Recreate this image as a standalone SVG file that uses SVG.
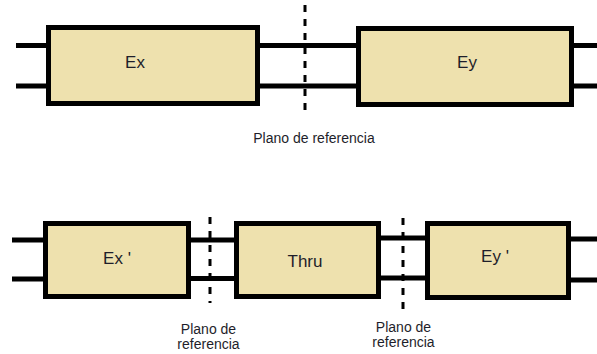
<svg xmlns="http://www.w3.org/2000/svg" width="597" height="354" viewBox="0 0 597 354">
<style>
.box{fill:#EEE1AE;stroke:#000;stroke-width:5}
.wire{stroke:#000;stroke-width:5;fill:none}
.plane{stroke:#000;stroke-width:3;stroke-dasharray:7 7;fill:none}
.lbl{font-family:"Liberation Sans",Arial,sans-serif;font-size:17px;fill:#1e1e2a;text-anchor:middle}
.cap{font-family:"Liberation Sans",Arial,sans-serif;font-size:14px;fill:#1e1e2a;text-anchor:middle}
</style>
<rect width="597" height="354" fill="#fff"/>
<g id="connectors">
<path class="wire" d="M16 45.5H48M16 86H48M260 45.5H356M260 86H356M574 45.5H597M574 86H597"/>
<path class="wire" d="M12 240H45M12 279H45M191 240H234M191 278.5H234M381 238H425M381 278H425M571 239H597M571 280H597"/>
<path class="plane" d="M305 5V112"/>
<path class="plane" d="M210 217V303"/>
<path class="plane" d="M403 218V314"/>
</g>
<g id="ex"><rect class="box" x="48.5" y="27.5" width="209" height="76"/><text class="lbl" x="135" y="68">Ex</text></g>
<g id="ey"><rect class="box" x="358.5" y="28.5" width="213" height="76"/><text class="lbl" x="467" y="68">Ey</text></g>
<g id="exp"><rect class="box" x="45.5" y="223.5" width="143" height="73"/><text class="lbl" x="117" y="264">Ex '</text></g>
<g id="thru"><rect class="box" x="236.5" y="223.5" width="142" height="73"/><text class="lbl" x="305" y="267">Thru</text></g>
<g id="eyp"><rect class="box" x="427.5" y="223.5" width="141" height="74"/><text class="lbl" x="495" y="262">Ey '</text></g>
<g id="plane1"><text class="cap" x="314" y="143" font-size="14.5">Plano de referencia</text></g>
<g id="plane2"><text class="cap" x="208.5" y="334">Plano de</text><text class="cap" x="208.5" y="349">referencia</text></g>
<g id="plane3"><text class="cap" x="403.5" y="332">Plano de</text><text class="cap" x="403.5" y="347">referencia</text></g>
</svg>
